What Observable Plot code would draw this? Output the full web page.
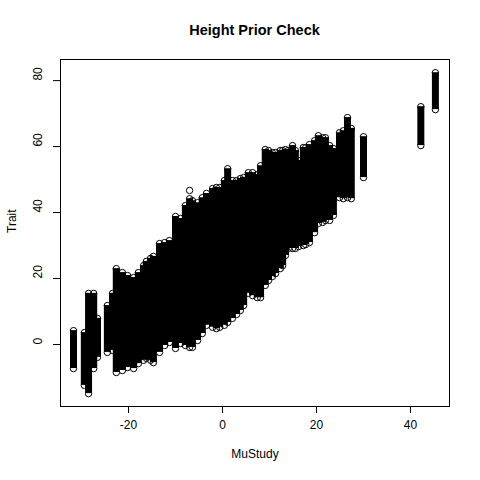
<!DOCTYPE html>
<html>
<head>
<meta charset="utf-8">
<script src="https://cdn.jsdelivr.net/npm/d3@7"></script>
<script src="https://cdn.jsdelivr.net/npm/@observablehq/plot@0.6"></script>
<style>
  body { margin: 0; background: #fff; font-family: "Liberation Sans", Arial, sans-serif; }
  #wrap { width: 480px; }
  #title { height: 44px; box-sizing: border-box; padding-left: 29px; padding-top: 22px;
           text-align: center; font-weight: bold; font-size: 14.5px; line-height: 16px; color: #000; }
</style>
</head>
<body>
<div id="wrap">
  <div id="title">Height Prior Check</div>
  <div id="chart"></div>
</div>
<script>
// Each study's draws form a vertical column: MuStudy value, lowest and highest Trait
const muStudy = [-31.7,-29.4,-28.5,-27.4,-26.6,-24.5,-23.4,-22.6,-21.3,-20.2,-18.9,-17.9,-16.8,-16.2,-15.3,-14.7,-13.4,-12.3,-11.3,-10.0,-8.9,-7.9,-7.0,-6.4,-5.3,-4.3,-3.4,-2.1,-1.3,-0.6,0.4,1.1,2.1,3.0,3.8,4.5,5.5,6.4,7.4,8.1,9.1,9.8,10.6,11.3,12.3,12.8,13.4,14.0,14.9,15.5,16.2,17.2,17.7,18.5,19.6,20.4,21.3,21.9,22.8,23.6,24.9,25.7,26.6,27.4,30.0,42.2,45.3];
const traitHigh = [4.2,3.6,15.5,15.5,7.9,11.8,15.5,23.0,21.8,20.9,20.3,21.8,23.9,25.2,26.1,26.7,30.6,30.9,31.5,38.8,38.2,42.1,44.2,43.6,43.0,44.5,45.8,47.3,47.6,47.6,49.7,53.3,49.7,49.7,50.3,50.6,52.1,52.1,51.5,54.2,59.1,58.8,58.2,58.2,58.8,58.8,59.1,58.8,60.3,58.8,55.8,59.7,59.7,60.6,61.8,63.3,62.7,62.7,60.3,59.4,64.2,64.8,68.8,65.5,63.0,72.1,82.4];
const traitLow = [-7.3,-12.4,-14.9,-7.3,-3.9,-2.4,-1.8,-8.5,-7.9,-7.0,-7.3,-5.8,-4.8,-4.2,-4.8,-5.5,-2.4,-0.3,0.6,-1.2,0.3,-0.3,-0.9,-0.9,1.2,3.3,5.8,5.2,4.8,5.2,5.8,6.7,7.9,9.1,10.3,11.8,15.5,14.8,14.2,14.2,17.9,19.4,20.6,21.5,23.0,23.9,27.0,29.1,29.1,29.1,29.7,30.0,30.3,30.9,33.9,36.7,37.0,37.6,37.6,39.1,44.5,44.2,44.5,44.2,50.6,60.3,71.2];
// a few loose draws sitting apart from their column
const extraMu = [-7.0];
const extraTrait = [46.7];

const xTicks = [-20, 0, 20, 40];
const yTicks = [0, 20, 40, 60, 80];

const cols = muStudy.map((m, i) => ({mu: m, lo: traitLow[i], hi: traitHigh[i]}));
const extras = extraMu.map((m, i) => ({mu: m, t: extraTrait[i]}));

const font = "Liberation Sans, Arial, sans-serif";
const chart = Plot.plot({
  width: 480,
  height: 436,
  marginTop: 15,
  marginBottom: 74,
  marginLeft: 60,
  marginRight: 31,
  style: {fontFamily: font, fontSize: "12px", background: "white", color: "black"},
  x: {domain: [-34.47, 48.3]},
  y: {domain: [-18.8, 86.4]},
  marks: [
    Plot.ruleX(cols, {x: "mu", y1: "lo", y2: "hi", stroke: "black", strokeWidth: 7}),
    Plot.dot(cols, {x: "mu", y: "hi", r: 3.2, stroke: "black", strokeWidth: 1, fill: "none"}),
    Plot.dot(cols, {x: "mu", y: "lo", r: 3.2, stroke: "black", strokeWidth: 1, fill: "none"}),
    Plot.dot(extras, {x: "mu", y: "t", r: 3.2, stroke: "black", strokeWidth: 1, fill: "none"}),
    Plot.frame({stroke: "black", strokeWidth: 1}),
    Plot.axisX({ticks: xTicks, tickSize: 7, tickPadding: 7, fontSize: 12, tickFormat: d => String(d), label: null}),
    Plot.axisY({ticks: yTicks, tickSize: 7, tickFormat: () => "", label: null}),
    Plot.text(yTicks, {y: d => d, text: d => String(d), frameAnchor: "left", dx: -22, rotate: -90, fontSize: 12, fill: "black"}),
    Plot.text(["MuStudy"], {frameAnchor: "bottom", dy: 51, fontSize: 12, fill: "black"}),
    Plot.text(["Trait"], {frameAnchor: "left", dx: -48, rotate: -90, fontSize: 12, fill: "black"})
  ]
});
document.getElementById("chart").appendChild(chart);
</script>
</body>
</html>
